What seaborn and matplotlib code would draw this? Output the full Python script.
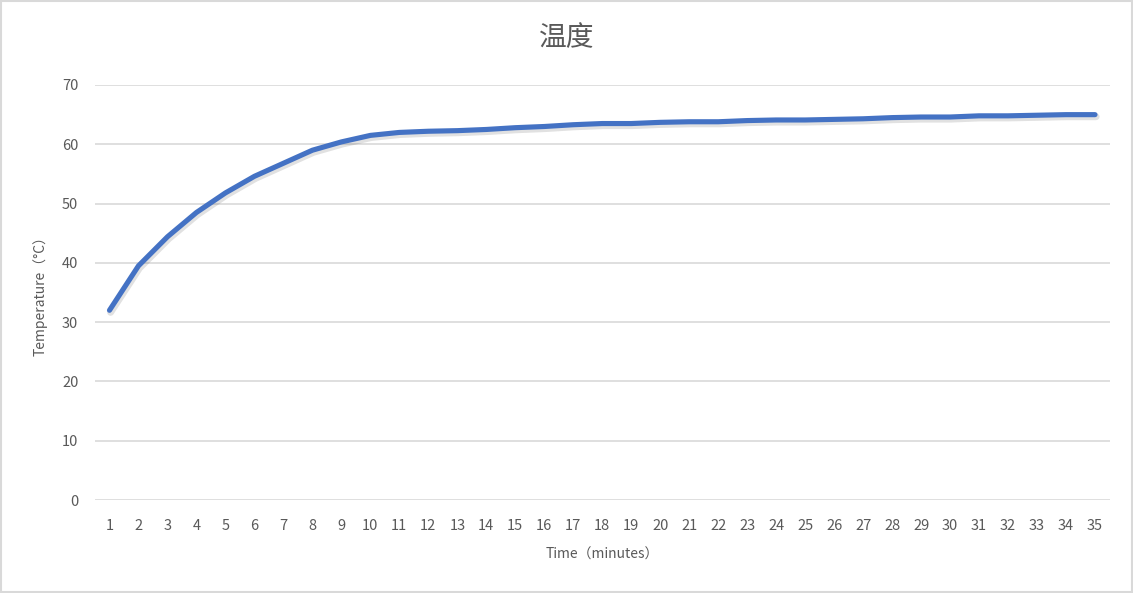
import numpy as np
import pandas as pd
import seaborn as sns
import matplotlib
matplotlib.use("Agg")
from matplotlib import pyplot as plt
from matplotlib import patheffects as pe

# data
minutes = list(range(1, 36))
temperature = [32.0, 39.5, 44.4, 48.5, 51.8, 54.6, 56.8, 59.0, 60.4, 61.5,
               62.0, 62.2, 62.3, 62.5, 62.8, 63.0, 63.3, 63.5, 63.5, 63.7,
               63.8, 63.8, 64.0, 64.1, 64.1, 64.2, 64.3, 64.5, 64.6, 64.6,
               64.8, 64.8, 64.9, 65.0, 65.0]
y_ticks = [0, 10, 20, 30, 40, 50, 60, 70]

df = pd.DataFrame({"Time": minutes, "Temp": temperature})

sns.set_theme(style="whitegrid")
plt.rcParams['font.family'] = ['Noto Sans CJK SC', 'DejaVu Sans']
grey = "#595959"

fig = plt.figure(figsize=(11.33, 5.93), dpi=100)
ax = fig.add_axes([95 / 1133, 1 - 500 / 593, (1109.5 - 95) / 1133, (500 - 85) / 593])

sns.lineplot(data=df, x="Time", y="Temp", ax=ax, color="#4472C4",
             linewidth=3.7, solid_capstyle="round",
             path_effects=[pe.SimpleLineShadow(offset=(0.8, -1.5), alpha=0.13,
                                               linewidth=5),
                           pe.Normal()])

ax.set_xlim(0.5, 35.5)
ax.set_ylim(0, 70)
ax.set_xticks(minutes)
ax.set_xticklabels([str(m) for m in minutes])
ax.set_yticks(y_ticks)
ax.grid(axis="x", visible=False)
ax.grid(axis="y", color="#d9d9d9", linewidth=1.2)
for s in ax.spines.values():
    s.set_visible(False)
ax.tick_params(axis="both", colors=grey, labelsize=10.5, length=0)
ax.tick_params(axis="x", pad=14)
ax.tick_params(axis="y", pad=12)

ax.set_xlabel("Time（minutes）", color=grey, fontsize=10, labelpad=10)
ax.set_ylabel("Temperature（°C）", color=grey, fontsize=10, labelpad=10)

fig.text(0.5, 1 - 38 / 593, "温度", ha="center", va="center",
         fontsize=20, color=grey, fontweight="medium")

# light grey border round the chart
fig.patches.append(plt.Rectangle((0.001, 0.001), 0.998, 0.997, transform=fig.transFigure,
                                 fill=False, edgecolor="#d9d9d9", linewidth=1.5))

fig.savefig("out.png", dpi=100)
